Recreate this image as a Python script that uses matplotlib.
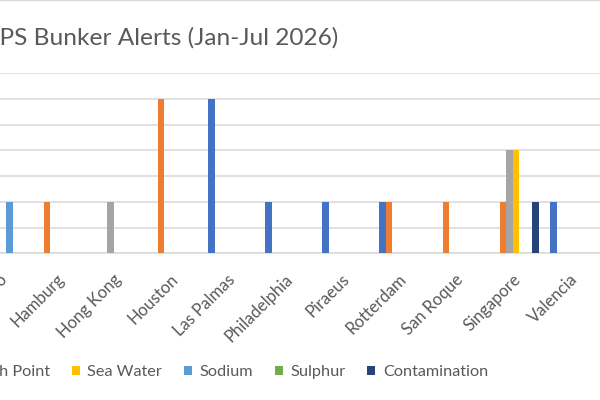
import numpy as np
import matplotlib
matplotlib.use("Agg")
import matplotlib.pyplot as plt
import matplotlib.transforms as mtransforms
from matplotlib.lines import Line2D

plt.rcParams['font.family'] = ['Lato', 'DejaVu Sans']

# ports (first one is mostly cut off on the left of the reference)
ports = ["Colombo", "Hamburg", "Hong Kong", "Houston", "Las Palmas", "Philadelphia",
         "Piraeus", "Rotterdam", "San Roque", "Singapore", "Valencia"]

# alert counts per parameter
cat_fines     = [0, 0, 0, 0, 3, 1, 1, 1, 0, 0, 1]
density       = [0, 1, 0, 3, 0, 0, 0, 1, 1, 1, 0]
flash_point   = [0, 0, 1, 0, 0, 0, 0, 0, 0, 2, 0]
sea_water     = [0, 0, 0, 0, 0, 0, 0, 0, 0, 2, 0]
sodium        = [1, 0, 0, 0, 0, 0, 0, 0, 0, 0, 0]
sulphur       = [0, 0, 0, 0, 0, 0, 0, 0, 0, 0, 0]
contamination = [0, 0, 0, 0, 0, 0, 0, 0, 0, 1, 0]

series_names = ["Cat Fines", "Density", "Flash Point", "Sea Water", "Sodium", "Sulphur", "Contamination"]
series_vals = [cat_fines, density, flash_point, sea_water, sodium, sulphur, contamination]
colors = ["#4472C4", "#ED7D31", "#A5A5A5", "#FFC000", "#5B9BD5", "#70AD47", "#264478"]

text_col = "#595959"
grid_col = "#D9D9D9"

fig = plt.figure(figsize=(6, 4), dpi=100)
# the reference is a crop of a wider chart: plot area runs off the left edge
ax = fig.add_axes([-25.5 / 600, 1 - 253.3 / 400, 627 / 600, 180 / 400])

x = np.arange(len(ports))
w = 0.114
for i, (name, vals, c) in enumerate(zip(series_names, series_vals, colors)):
    ax.bar(x + (i - 3) * w, vals, width=w, color=c, label=name, zorder=3)

ax.set_xlim(-0.5, len(ports) - 0.5)
ax.set_ylim(0, 3.5)
ax.set_yticks(np.arange(0, 3.51, 0.5))
ax.yaxis.grid(True, color=grid_col, linewidth=1.1, zorder=0)
ax.tick_params(axis='y', left=False, labelleft=False)
for s in ["top", "left", "right"]:
    ax.spines[s].set_visible(False)
ax.spines["bottom"].set_color(grid_col)
ax.spines["bottom"].set_linewidth(1.1)

ax.set_xticks(x, ports)
ax.tick_params(axis='x', length=0, pad=17, labelsize=12, labelcolor=text_col)
offset = mtransforms.ScaledTranslation(1.5 / 72, 0, fig.dpi_scale_trans)
for lab in ax.get_xticklabels():
    lab.set_rotation(45)
    lab.set_ha('right')
    lab.set_va('center')
    lab.set_rotation_mode('anchor')
    lab.set_transform(lab.get_transform() + offset)

fig.text(338 / 600, 1 - 38 / 400, "VPS Bunker Alerts (Jan-Jul 2026)", ha='right', va='center',
         fontsize=17.6, color=text_col)

ax.legend(loc='center right', bbox_to_anchor=(488 / 600, 1 - 372 / 400), bbox_transform=fig.transFigure,
          ncol=7, frameon=False, fontsize=11.7, labelcolor=text_col, borderpad=0, borderaxespad=0,
          handlelength=0.5, handleheight=0.5, handletextpad=0.45, columnspacing=1.35)

# chart border along the top edge
fig.add_artist(Line2D([0, 1], [0.999, 0.999], color=grid_col, linewidth=1.0))

fig.savefig("out.png", dpi=100)
